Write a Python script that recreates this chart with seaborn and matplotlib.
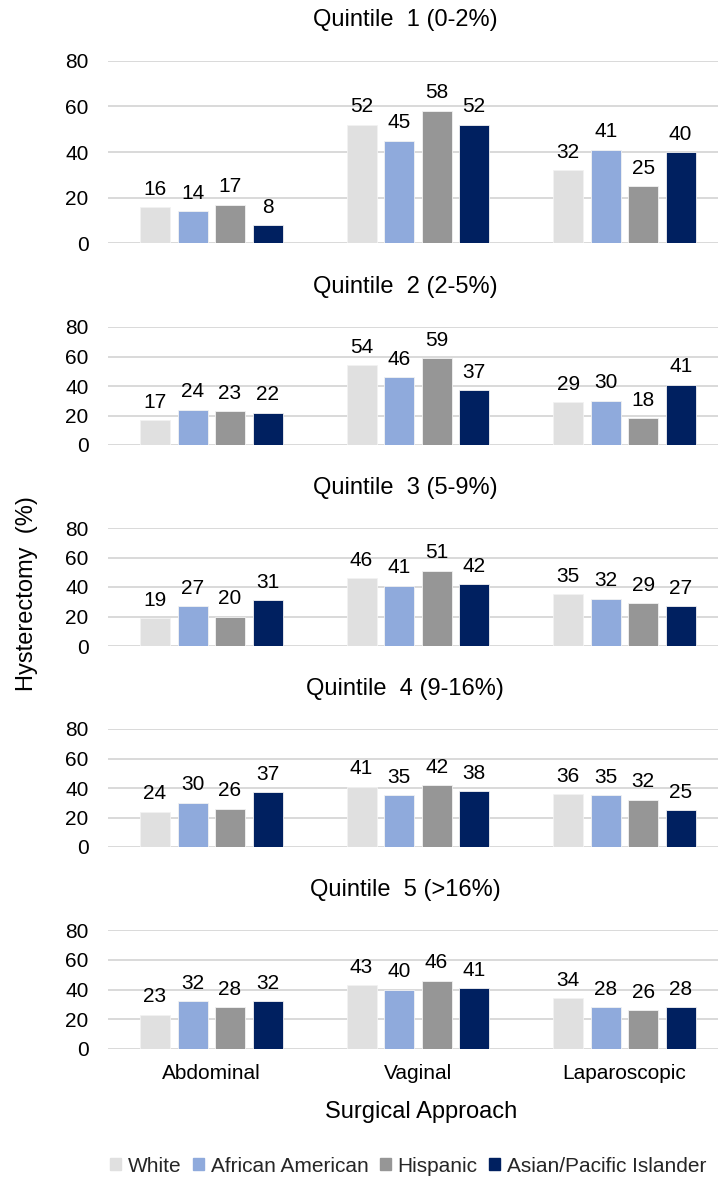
import matplotlib
matplotlib.use("Agg")
import matplotlib.pyplot as plt
import seaborn as sns
import pandas as pd

# Surgical approach categories and race/ethnicity groups
approaches = ["Abdominal", "Vaginal", "Laparoscopic"]
groups = ["White", "African American", "Hispanic", "Asian/Pacific Islander"]
colors = ["#E0E0E0", "#8FAADC", "#969696", "#002060"]

quintile_titles = [
    "Quintile  1 (0-2%)",
    "Quintile  2 (2-5%)",
    "Quintile  3 (5-9%)",
    "Quintile  4 (9-16%)",
    "Quintile  5 (>16%)",
]

# Percent of hysterectomies by approach; rows = approach, cols = group
q1 = [[16, 14, 17, 8], [52, 45, 58, 52], [32, 41, 25, 40]]
q2 = [[17, 24, 23, 22], [54, 46, 59, 37], [29, 30, 18, 41]]
q3 = [[19, 27, 20, 31], [46, 41, 51, 42], [35, 32, 29, 27]]
q4 = [[24, 30, 26, 37], [41, 35, 42, 38], [36, 35, 32, 25]]
q5 = [[23, 32, 28, 32], [43, 40, 46, 41], [34, 28, 26, 28]]
quintiles = [q1, q2, q3, q4, q5]

yticks = [0, 20, 40, 60, 80]

sns.set_theme(style="white")
plt.rcParams["font.family"] = ["Liberation Sans", "DejaVu Sans"]

W, H = 718, 1182
fig = plt.figure(figsize=(W / 100, H / 100), dpi=100)

# panel extents in pixels (top, bottom)
panels = [(60.5, 243.5), (327, 445), (528, 646), (729, 847), (930, 1049)]
left_px, right_px = 108, 718

for i, (vals, title, (top, bot)) in enumerate(zip(quintiles, quintile_titles, panels)):
    ax = fig.add_axes([left_px / W, 1 - bot / H, (right_px - left_px) / W, (bot - top) / H])
    rows = []
    for a, approach in enumerate(approaches):
        for g, group in enumerate(groups):
            rows.append({"approach": approach, "group": group, "pct": vals[a][g]})
    df = pd.DataFrame(rows)
    sns.barplot(
        data=df, x="approach", y="pct", hue="group", order=approaches,
        hue_order=groups, palette=colors, saturation=1, width=0.726, gap=0.2,
        edgecolor="#F2F2F2", linewidth=0.6, legend=False, ax=ax, errorbar=None,
        zorder=3,
    )
    for cont in ax.containers:
        ax.bar_label(cont, fmt="%d", padding=6, fontsize=15, color="#000000")
    ax.set_ylim(0, 80)
    ax.set_yticks(yticks)
    ax.set_xlim(-0.5, 2.453)
    ax.grid(axis="y", color="#D9D9D9", linewidth=1.4, zorder=0)
    ax.set_axisbelow(True)
    for s in ax.spines.values():
        s.set_visible(False)
    ax.tick_params(axis="y", length=0, pad=14, labelsize=15, labelcolor="#000000")
    ax.set_ylabel("")
    ax.set_xlabel("")
    if i < 4:
        ax.set_xticklabels([])
        ax.tick_params(axis="x", length=0)
    else:
        ax.tick_params(axis="x", length=0, pad=11, labelsize=15, labelcolor="#000000")
    ax.annotate(title, xy=(0.487, 1), xycoords="axes fraction", xytext=(0, 29),
                textcoords="offset points", ha="center", va="center",
                fontsize=17, color="#000000")

fig.text(27 / W, 1 - 594 / H, "Hysterectomy  (%)", rotation=90, ha="center",
         va="center", fontsize=17, color="#000000")
fig.text(421 / W, 1 - 1112 / H, "Surgical Approach", ha="center", va="center",
         fontsize=17, color="#000000")

handles = [plt.Rectangle((0, 0), 1, 1, color=c) for c in colors]
fig.legend(handles, groups, loc="center", bbox_to_anchor=(408 / W, 1 - 1166 / H),
           ncol=4, frameon=False, fontsize=15, handlelength=0.55, handleheight=0.55,
           handletextpad=0.3, columnspacing=0.55)

fig.savefig("out.png", dpi=100)
